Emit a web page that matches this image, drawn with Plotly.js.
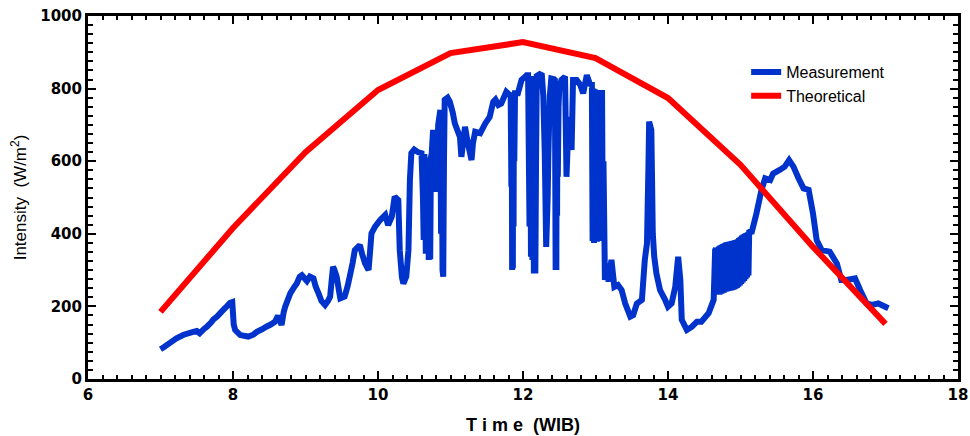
<!DOCTYPE html>
<html>
<head>
<meta charset="utf-8">
<script src="https://cdn.plot.ly/plotly-3.0.1.min.js"></script>
<style>
html,body{margin:0;padding:0;background:#fff;}
#chart{width:970px;height:436px;}
</style>
</head>
<body>
<div id="chart"></div>
<script>
// Theoretical (hourly)
const theoTime = [7, 8, 9, 10, 11, 12, 13, 14, 15, 16, 17];
const theoValue = [185, 416, 625, 796, 898, 928, 884, 774, 590, 364, 152];

const measTime = [
  7.00,7.05,7.12,7.22,7.32,7.45,7.50,7.54,7.60,7.64,7.70,7.73,7.78,7.84,7.90,7.96,7.99,
  8.01,8.03,8.10,8.21,8.28,8.33,8.40,8.46,8.52,8.58,8.62,8.65,8.67,8.70,8.72,8.79,8.85,8.88,8.92,8.95,
  9.02,9.06,9.11,9.14,9.18,9.22,9.27,9.31,9.34,9.36,9.38,9.40,9.43,9.46,9.48,9.54,9.58,9.61,9.65,9.68,9.75,9.78,9.82,9.87,9.89,9.91,9.96,
  10.03,10.10,10.14,10.19,10.23,10.28,10.30,10.33,10.35,10.39,10.42,10.44,10.46,10.50,10.55,10.60,10.62,10.63,10.64,10.66,10.68,10.70,10.71,10.72,10.73,10.74,10.76,10.78,10.81,10.83,10.86,10.87,10.88,10.89,10.90,10.91,10.92,10.96,10.99,
  11.03,11.06,11.13,11.15,11.18,11.20,11.23,11.25,11.29,11.31,11.34,11.41,11.48,11.54,11.59,11.62,11.66,11.70,11.77,11.82,
  11.83,11.84,11.845,11.85,11.855,11.86,11.865,11.87,11.875,11.88,11.89,11.93,11.98,
  12.03,12.05,12.07,12.09,12.10,12.11,12.12,12.13,12.14,12.15,12.16,12.17,12.18,12.19,12.23,12.26,12.28,12.30,12.32,12.34,12.35,12.37,12.39,
  12.43,12.44,12.45,12.455,12.46,12.465,12.47,12.475,12.48,12.49,12.50,12.53,12.58,12.60,12.63,12.67,12.69,12.74,12.79,12.83,12.88,12.92,12.94,
  12.95,12.96,12.97,12.98,12.99,13.00,13.01,13.02,13.03,13.04,13.05,13.06,13.07,13.08,13.09,13.10,13.11,
  13.13,13.15,13.18,13.22,13.26,13.31,13.36,13.41,13.48,13.52,13.57,13.64,13.68,13.71,13.73,13.74,13.77,13.78,13.79,13.81,13.84,13.89,13.96,
  14.00,14.05,14.10,14.14,14.17,14.19,14.26,14.33,14.40,14.46,14.56,14.63,14.65,
  14.66,14.67,14.68,14.69,14.70,14.71,14.72,14.73,14.74,14.75,14.76,14.77,14.78,14.79,14.80,14.81,14.82,14.83,14.84,14.85,14.86,14.87,14.88,14.89,
  14.90,14.91,14.92,14.93,14.94,14.95,14.96,14.97,14.98,14.99,15.00,15.01,15.02,15.03,15.04,15.05,15.06,15.07,15.08,15.09,15.10,15.11,15.12,15.13,
  15.15,15.22,15.29,15.34,15.41,15.45,15.54,15.61,15.67,15.73,15.80,15.87,15.94,
  16.00,16.05,16.12,16.23,16.33,16.39,16.46,16.58,16.65,16.74,16.81,16.90,17.04
];
const measValue = [
  82,88,98,112,122,130,132,126,138,144,156,164,172,185,197,210,212,
  150,135,121,117,122,130,137,144,150,158,174,160,149,185,199,236,255,263,282,286,
  270,282,277,255,236,215,204,215,227,270,309,300,282,245,222,227,255,282,320,355,369,345,319,300,350,401,420,
  438,452,424,447,502,493,355,280,263,282,355,548,622,632,625,622,500,383,620,345,610,328,600,330,610,620,686,600,516,700,741,400,700,300,282,600,769,775,764,
  735,704,667,612,660,695,660,640,603,650,681,677,704,722,764,770,755,759,791,782,
  782,530,780,300,785,305,790,420,787,600,787,787,824,
  833,837,837,420,835,337,830,328,835,291,830,291,600,835,840,837,780,622,364,500,622,780,828,
  826,824,300,780,300,785,450,790,557,750,800,824,833,557,722,631,824,824,810,787,837,814,810,
  810,380,800,375,798,380,796,378,796,385,796,380,796,390,796,420,600,
  273,318,268,328,254,259,245,208,172,176,208,218,328,374,585,709,686,550,401,337,291,245,218,
  199,208,254,337,273,163,135,144,158,158,181,218,355,
  360,240,362,235,365,232,368,234,370,236,372,238,374,240,376,241,377,242,378,243,379,244,380,245,
  381,247,382,249,383,251,385,254,388,258,392,262,395,266,398,270,400,275,402,280,404,285,405,406,
  401,456,521,553,548,566,576,585,603,585,553,525,521,
  456,383,355,351,318,273,273,277,245,208,204,208,195
];

const xTickVals = [6, 8, 10, 12, 14, 16, 18];
const yTickVals = [0, 200, 400, 600, 800, 1000];

const traces = [
  {
    x: measTime, y: measValue, type: 'scatter', mode: 'lines', name: 'Measurement',
    line: {color: '#0033CC', width: 6, shape: 'linear', simplify: false}
  },
  {
    x: theoTime, y: theoValue, type: 'scatter', mode: 'lines', name: 'Theoretical',
    line: {color: '#FF0000', width: 6, simplify: false}
  }
];

const tickFont = {family: '"DejaVu Sans", Arial, sans-serif', size: 15, color: '#000', weight: 'bold'};

const layout = {
  width: 970, height: 436,
  margin: {l: 88, r: 12, t: 16, b: 57},
  paper_bgcolor: '#fff', plot_bgcolor: '#fff',
  showlegend: true,
  legend: {
    x: 0.7565, y: 0.8925, xanchor: 'left', yanchor: 'top',
    bgcolor: 'rgba(0,0,0,0)', borderwidth: 0,
    font: {family: 'Arial, "Liberation Sans", sans-serif', size: 16, color: '#000'},
    tracegroupgap: 0
  },
  xaxis: {
    range: [6, 18], tickvals: xTickVals, ticktext: xTickVals.map(String),
    ticks: 'inside', ticklen: 8, tickwidth: 2, tickcolor: '#000',
    minor: {dtick: 0.2, tick0: 6, ticks: 'inside', ticklen: 4, tickwidth: 2, tickcolor: '#000', showgrid: false},
    showline: true, linewidth: 3, linecolor: '#000', mirror: 'allticks',
    showgrid: false, zeroline: false,
    tickfont: tickFont,
    title: {text: 'T i m e  (WIB)', font: {family: 'Arial, "Liberation Sans", sans-serif', size: 18, color: '#000', weight: 'bold'}, standoff: 16}
  },
  yaxis: {
    range: [0, 1000], tickvals: yTickVals, ticktext: yTickVals.map(String),
    ticks: 'inside', ticklen: 8, tickwidth: 2, tickcolor: '#000',
    minor: {dtick: 25, tick0: 0, ticks: 'inside', ticklen: 5, tickwidth: 2, tickcolor: '#000', showgrid: false},
    showline: true, linewidth: 3, linecolor: '#000', mirror: 'allticks',
    showgrid: false, zeroline: false,
    tickfont: tickFont,
    title: {text: 'Intensity  (W/m<sup>2</sup>)', font: {family: 'Arial, "Liberation Sans", sans-serif', size: 17, color: '#000'}, standoff: 10}
  }
};

Plotly.newPlot('chart', traces, layout, {displayModeBar: false, staticPlot: true});
</script>
</body>
</html>
